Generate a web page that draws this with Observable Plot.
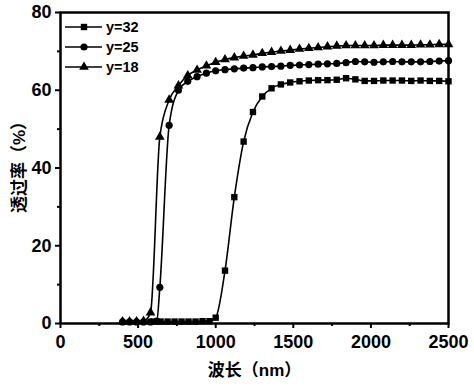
<!DOCTYPE html>
<html><head><meta charset="utf-8">
<script src="https://cdn.jsdelivr.net/npm/d3@7"></script>
<script src="https://cdn.jsdelivr.net/npm/@observablehq/plot@0.6"></script>
<style>
body{margin:0;background:#fff}
#chart{position:relative;width:474px;height:388px}
#legend{position:absolute;left:0;top:0;pointer-events:none}
</style>
</head><body><div id="chart"></div>
<script>
// ---- data ----
const seriesNames = ["y=32", "y=25", "y=18"];
const symbols = ["square", "circle", "triangle"];

const wl32 = [600,645,690,735,780,825,870,915,960,1000,1060,1120,1180,1240,1300,1360,1420,1480,1540,1600,1660,1720,1780,1840,1900,1960,2020,2080,2140,2200,2260,2320,2380,2440,2500];
const t32  = [0.5,0.5,0.5,0.5,0.5,0.5,0.5,0.6,0.6,1.5,13.6,32.5,46.8,54.4,58.4,60.5,61.5,62.0,62.3,62.5,62.6,62.6,62.7,63.1,62.8,62.4,62.4,62.5,62.5,62.5,62.4,62.5,62.4,62.4,62.3];

const wl25 = [400,445,490,535,580,620,640,700,760,820,880,940,1000,1060,1120,1180,1240,1300,1360,1420,1480,1540,1600,1660,1720,1780,1840,1900,1960,2020,2080,2140,2200,2260,2320,2380,2440,2500];
const t25  = [0.4,0.4,0.4,0.4,0.4,0.6,9.3,51.0,60.0,62.3,63.5,64.4,65.0,65.3,65.5,65.7,65.8,66.0,66.1,66.2,66.4,66.5,66.6,66.7,66.8,66.9,67.1,67.4,67.3,67.2,67.3,67.4,67.3,67.3,67.3,67.4,67.5,67.6];

const wl18 = [400,445,490,535,580,640,700,760,820,880,940,1000,1060,1120,1180,1240,1300,1360,1420,1480,1540,1600,1660,1720,1780,1840,1900,1960,2020,2080,2140,2200,2260,2320,2380,2440,2500];
const t18  = [0.5,0.5,0.5,0.6,2.8,48.0,57.5,61.2,63.8,65.2,66.3,67.2,67.9,68.4,68.8,69.1,69.5,69.8,70.1,70.3,70.6,70.8,71.0,71.2,71.4,71.5,71.5,71.5,71.5,71.6,71.6,71.6,71.6,71.7,71.7,71.8,71.8];

const xMajor = [0,500,1000,1500,2000,2500];
const xMinor = [250,750,1250,1750,2250];
const yMajor = [0,20,40,60,80];
const yMinor = [10,30,50,70];
const xLabel = "波长（nm）";
const yLabel = "透过率（%）";

// ---- build table ----
const wls = [wl32, wl25, wl18];
const ts = [t32, t25, t18];
const rows = [];
seriesNames.forEach((s, i) => wls[i].forEach((w, j) => rows.push({series: s, wl: w, t: ts[i][j], sym: symbols[i]})));

const W = 474, H = 388;
const mL = 60, mR = 26, mT = 12, mB = 65;
const font = "'Liberation Sans', Arial, 'Noto Sans CJK SC', sans-serif";

const chart = Plot.plot({
  width: W, height: H,
  marginLeft: mL, marginRight: mR, marginTop: mT, marginBottom: mB,
  style: {fontFamily: font, background: "white", color: "black", overflow: "visible"},
  x: {domain: [0, 2500]},
  y: {domain: [0, 80]},
  symbol: {domain: seriesNames, range: symbols},
  marks: [
    Plot.axisX({ticks: xMajor, tickSize: 5, tickPadding: 7, fontSize: 18, fontWeight: "bold", strokeWidth: 2, label: null, tickFormat: d => String(d)}),
    Plot.axisX({ticks: xMinor, tickSize: 3, strokeWidth: 2, text: null, label: null}),
    Plot.axisY({ticks: yMajor, tickSize: 5, tickPadding: 4, fontSize: 18, fontWeight: "bold", strokeWidth: 2, label: null, tickFormat: d => String(d)}),
    Plot.axisY({ticks: yMinor, tickSize: 3, strokeWidth: 2, text: null, label: null}),
    Plot.line(rows, {x: "wl", y: "t", z: "series", stroke: "black", strokeWidth: 1.6, curve: "monotone-x"}),
    Plot.dot(rows, {x: "wl", y: "t", symbol: "series", fill: "black", stroke: "none", r: 3.6}),
    Plot.frame({stroke: "black", strokeWidth: 2.5}),
    Plot.text([xLabel], {text: d => d, frameAnchor: "bottom", textAnchor: "middle", dy: 52, fontSize: 17, fontWeight: "bold", fill: "black"}),
    Plot.text([yLabel], {text: d => d, frameAnchor: "left", textAnchor: "middle", rotate: -90, dx: -41, dy: -5, fontSize: 17, fontWeight: "bold", fill: "black"})
  ]
});

const host = document.getElementById("chart");
host.appendChild(chart);

// ---- legend overlay ----
const leg = d3.select(host).append("svg").attr("id", "legend").attr("width", W).attr("height", H);
const symMap = {square: d3.symbolSquare, circle: d3.symbolCircle, triangle: d3.symbolTriangle};
seriesNames.forEach((s, i) => {
  const g = leg.append("g").attr("transform", `translate(0,${27 + i * 20})`);
  g.append("line").attr("x1", 65).attr("x2", 102).attr("y1", 0).attr("y2", 0).attr("stroke", "black").attr("stroke-width", 1.6);
  g.append("path").attr("d", d3.symbol(symMap[symbols[i]], Math.PI * 3.6 * 3.6)()).attr("transform", "translate(84,0)").attr("fill", "black");
  g.append("text").attr("x", 106).attr("y", 5).attr("font-family", font).attr("font-weight", "bold").attr("font-size", 14.5).text(s);
});
</script></body></html>
